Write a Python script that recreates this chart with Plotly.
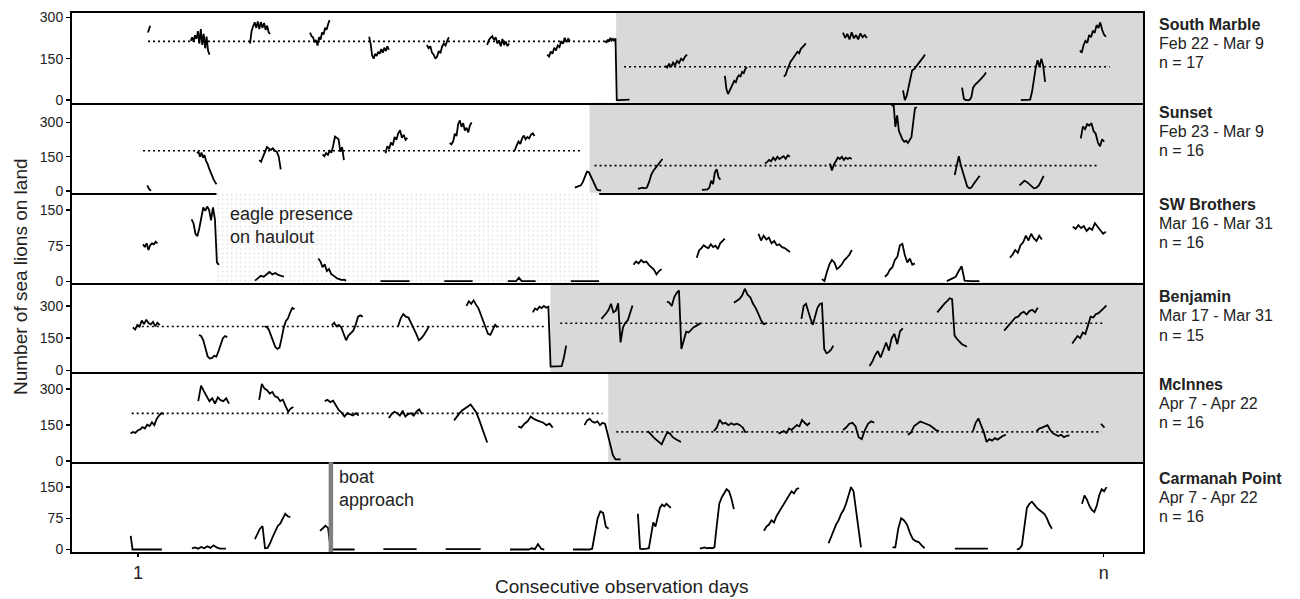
import plotly.graph_objects as go

# ---------------------------------------------------------------- data
SITES = ["South Marble", "Sunset", "SW Brothers", "Benjamin", "McInnes", "Carmanah Point"]
DATES = ["Feb 22 - Mar 9", "Feb 23 - Mar 9", "Mar 16 - Mar 31",
         "Mar 17 - Mar 31", "Apr 7 - Apr 22", "Apr 7 - Apr 22"]
N_DAYS = [17, 16, 16, 15, 16, 16]
Y_TICKS = [[0, 150, 300], [0, 150, 300], [0, 75, 150],
           [0, 150, 300], [0, 150, 300], [0, 75, 150]]
X_TICK_TEXT = ["1", "n"]
DAY_ORIGIN_H = 7.0   # clock hour at the left edge of each day slot

# --- South Marble: observation window (clock h) and counts per day
SM_T0 = [13.7, 7.0, 7.0, 7.3, 7.2, 6.6, 7.0, 7.3, 6.8, 7.0, 7.2, 7.1, 7.0, 7.3, 7.2, 7.0, 6.9]
SM_T1 = [14.6, 14.6, 15.2, 15.2, 15.2, 15.5, 15.9, 16.5, 16.6, 15.9, 16.1, 16.0, 16.7, 16.2, 16.9, 16.8, 17.4]
SM_COUNTS = [
    [245, 255, 262, 270],
    [215, 228, 212, 235, 222, 250, 205, 258, 200, 240, 188, 230, 180, 165],
    [205, 250, 268, 282, 262, 285, 258, 283, 262, 280, 255, 270, 245, 240],
    [245, 232, 228, 210, 218, 198, 228, 220, 245, 238, 262, 255, 275, 290],
    [230, 205, 162, 150, 168, 160, 175, 168, 185, 172, 190, 178, 195, 182],
    [200, 188, 195, 172, 165, 150, 158, 178, 170, 195, 205, 198, 215, 228],
    [200, 218, 226, 232, 218, 228, 205, 216, 195, 222, 200, 212, 196, 205],
    [165, 158, 176, 168, 190, 180, 198, 192, 214, 204, 226, 210, 222, 215],
    [215, 208, 220, 212, 226, 216, 222, 214, 224, 0, 0, 0, 0, 0, 0, 0, 1, 1, 2, 2],
    [125, 118, 132, 120, 136, 126, 142, 134, 150, 144, 158, 165],
    [88, 40, 22, 35, 48, 55, 70, 65, 82, 90, 86, 102, 98, 112, 120],
    [85, 92, 110, 128, 140, 148, 156, 165, 175, 170, 186, 192, 200, 206],
    [245, 226, 240, 220, 246, 224, 236, 220, 242, 228, 236, 225],
    [35, 0, 15, 50, 85, 108, 112, 120, 128, 140, 148, 155, 165],
    [45, 5, 0, 0, 0, 10, 45, 55, 60, 68, 75, 82, 90, 100],
    [0, 0, 0, 0, 0, 2, 30, 80, 118, 145, 120, 150, 125, 66],
    [180, 172, 200, 215, 208, 236, 228, 252, 244, 272, 262, 282, 255, 238, 230],
]
SM_MEANS = [((1, 13.7), (9, 8.2), 213), ((9, 14.4), (17, 19.0), 121)]
SM_GRAY_FROM = (9, 11.2)

# --- Sunset
SU_T0 = [12.3, 7.2, 6.8, 6.9, 6.8, 7.2, 7.3, 6.7, 6.7, 7.0, 6.9, 7.6, 7.1, 7.0, 7.6, 6.9]
SU_T1 = [13.8, 14.6, 15.0, 15.0, 15.1, 15.5, 15.4, 16.7, 16.0, 14.0, 16.4, 15.9, 16.6, 16.5, 16.8, 15.8]
SU_COUNTS = [
    [25, 15, 8, 4, 3],
    [165, 172, 150, 168, 145, 158, 132, 120, 100, 82, 66, 52, 40, 30],
    [135, 128, 150, 175, 192, 185, 180, 187, 176, 172, 150, 95],
    [160, 152, 166, 158, 176, 168, 200, 238, 232, 226, 172, 192, 135],
    [165, 196, 184, 212, 200, 236, 224, 252, 266, 232, 246, 224, 232],
    [210, 204, 216, 250, 240, 292, 308, 280, 296, 264, 276, 256, 286, 300],
    [172, 180, 200, 216, 206, 230, 242, 226, 236, 230, 246, 252, 240],
    [15, 18, 22, 25, 40, 65, 85, 82, 62, 40, 20, 6, 3, 3],
    [10, 12, 15, 12, 15, 40, 72, 90, 102, 116, 126, 140],
    [5, 5, 5, 7, 15, 45, 30, 82, 95, 60, 50],
    [120, 126, 136, 130, 146, 135, 150, 140, 146, 152, 140, 156, 150],
    [120, 90, 115, 130, 146, 140, 150, 136, 146, 140, 145, 140],
    [370, 382, 280, 330, 262, 240, 225, 215, 220, 210, 222, 235, 300, 362, 366],
    [70, 120, 152, 110, 80, 40, 20, 12, 15, 30, 45, 55, 66],
    [25, 35, 45, 40, 30, 18, 12, 15, 25, 45, 66],
    [230, 282, 270, 292, 286, 296, 262, 250, 212, 195, 226, 215],
]
SU_MEANS = [((1, 10.7), (8, 9.6), 176), ((8, 14.2), (16, 13.2), 111)]
SU_GRAY_FROM = (8, 12.3)

# --- SW Brothers
SW_T0 = [12.6, 7.1, 7.3, 7.4, 7.1, 7.4, 7.6, 7.6, 7.5, 7.6, 7.1, 7.3, 7.3, 6.9, 6.9, 6.9]
SW_T1 = [18.1, 17.5, 18.3, 18.0, 18.2, 18.2, 18.2, 18.4, 18.2, 18.3, 19.1, 18.7, 18.7, 19.3, 19.1, 19.5]
SW_COUNTS = [
    [78, 72, 80, 66, 76, 80, 78, 83, 80],
    [130, 122, 100, 95, 112, 135, 155, 148, 157, 150, 128, 155, 130, 40, 35],
    [2, 8, 12, 10, 16, 20, 15, 18, 14, 12, 10],
    [48, 42, 30, 36, 22, 26, 16, 12, 8, 6, 5, 3, 4, 2],
    [1, 1, 1, 1, 1, 1, 1, 1],
    [1, 1, 1, 1, 1, 1, 1, 1],
    [1, 1, 1, 1, 8, 1, 1, 1, 1, 1, 1],
    [1, 1, 1, 1, 1, 1, 1, 1],
    [35, 42, 38, 45, 40, 42, 35, 30, 25, 15, 22, 26],
    [50, 65, 70, 76, 72, 70, 78, 72, 75, 68, 80, 86, 90],
    [100, 86, 96, 88, 92, 80, 85, 76, 78, 72, 70, 65, 62],
    [5, 1, 20, 36, 45, 40, 26, 30, 36, 45, 50, 56, 66],
    [10, 15, 25, 30, 45, 52, 76, 79, 55, 40, 48, 35, 38],
    [1, 4, 8, 10, 22, 32, 2, 1, 1, 1, 1, 1],
    [50, 56, 66, 60, 76, 82, 96, 86, 100, 90, 85, 96, 88],
    [115, 110, 118, 112, 116, 106, 112, 108, 122, 115, 108, 100, 104],
]
SW_EAGLE = ((2, 16.6), (8, 18.4))

# --- Benjamin
BE_T0 = [7.3, 6.9, 6.3, 6.3, 6.0, 6.4, 6.1, 6.6, 6.0, 5.9, 6.0, 6.3, 6.5, 6.4, 6.7]
BE_T1 = [16.9, 17.0, 17.0, 17.4, 17.1, 17.5, 18.0, 17.7, 18.0, 17.6, 17.4, 18.2, 17.1, 18.4, 18.9]
BE_COUNTS = [
    [200, 190, 212, 204, 232, 215, 236, 220, 214, 226, 205, 222, 210],
    [165, 160, 140, 100, 65, 55, 58, 68, 64, 90, 120, 150, 160, 155],
    [205, 202, 190, 160, 130, 110, 100, 106, 150, 200, 230, 242, 270, 290, 285],
    [210, 222, 205, 212, 200, 170, 140, 162, 176, 185, 212, 250, 256, 250],
    [205, 242, 262, 250, 246, 222, 200, 170, 140, 150, 166, 186, 206],
    [300, 322, 310, 326, 306, 290, 260, 230, 200, 170, 165, 186, 212, 200],
    [270, 288, 282, 296, 290, 300, 292, 296, 18, 18, 18, 18, 18, 20, 60, 115],
    [240, 252, 266, 282, 310, 270, 278, 312, 130, 200, 222, 232, 272, 302],
    [320, 315, 300, 340, 360, 372, 100, 140, 180, 176, 190, 200, 206, 214, 220],
    [315, 322, 332, 348, 380, 352, 340, 310, 290, 262, 232, 215, 220],
    [240, 300, 310, 270, 240, 212, 255, 290, 308, 312, 100, 80, 86, 96, 115],
    [20, 40, 70, 90, 60, 100, 130, 92, 150, 170, 122, 182, 195],
    [270, 285, 296, 312, 322, 336, 332, 162, 146, 132, 122, 116, 110],
    [185, 200, 216, 230, 246, 250, 266, 272, 260, 276, 282, 270, 292],
    [125, 142, 160, 150, 176, 170, 212, 250, 246, 262, 266, 280, 290, 302],
]
BE_MEANS = [((1, 8.7), (7, 10.6), 204), ((7, 15.9), (15, 18.3), 219.5)]
BE_GRAY_FROM = (7, 12.4)

# --- McInnes
MC_T0 = [7.0, 8.1, 6.7, 7.0, 6.8, 7.0, 6.8, 7.4, 6.9, 7.4, 7.4, 7.3, 7.4, 7.5, 7.1, 7.0]
MC_T1 = [19.3, 19.5, 19.4, 19.6, 19.1, 19.3, 19.6, 20.8, 19.2, 19.2, 19.0, 18.9, 18.9, 19.7, 19.3, 8.3]
MC_COUNTS = [
    [115, 122, 118, 128, 132, 142, 136, 152, 146, 162, 150, 176, 190, 200, 196],
    [250, 315, 292, 272, 250, 262, 240, 266, 254, 250, 262, 240],
    [255, 322, 302, 296, 282, 288, 270, 266, 250, 256, 230, 206, 220, 226],
    [250, 256, 246, 252, 232, 212, 202, 186, 200, 195, 190, 200, 190],
    [180, 196, 206, 200, 190, 210, 186, 196, 200, 190, 206, 216, 196],
    [170, 186, 200, 212, 222, 228, 236, 222, 204, 175, 140, 110, 78],
    [145, 140, 156, 166, 186, 176, 170, 166, 160, 150, 156, 140],
    [150, 170, 176, 165, 160, 166, 150, 160, 155, 110, 60, 25, 8, 8, 8],
    [125, 110, 100, 90, 80, 70, 96, 120, 115, 100, 92, 86, 80],
    [125, 140, 172, 156, 160, 150, 158, 152, 156, 150, 140, 118],
    [115, 120, 126, 118, 136, 130, 140, 150, 145, 172, 160, 150, 160],
    [130, 140, 156, 160, 146, 100, 92, 130, 156, 166, 160],
    [110, 120, 146, 156, 165, 160, 156, 150, 140, 130, 125],
    [125, 160, 178, 150, 120, 80, 92, 86, 96, 90, 100, 106, 110],
    [125, 136, 140, 146, 150, 130, 116, 110, 105, 110, 100, 106, 108],
    [156, 146, 140],
]
MC_MEANS = [((1, 7.4), (8, 14.0), 199), ((8, 19.2), (16, 7.2), 122)]
MC_GRAY_FROM = (8, 16.2)

# --- Carmanah Point
CA_T0 = [6.7, 5.9, 5.8, 6.5, 6.5, 6.1, 6.5, 6.4, 7.0, 6.5, 6.8, 7.3, 7.5, 7.2, 6.7, 7.4]
CA_T1 = [18.5, 18.8, 19.2, 19.6, 19.1, 19.4, 19.5, 19.9, 19.5, 19.4, 20.1, 19.6, 19.7, 19.7, 20.0, 16.7]
CA_COUNTS = [
    [33, 0, 0, 0, 0, 0, 0, 0, 0, 0, 0, 0, 0, 0, 0, 0, 0, 0],
    [3, 5, 2, 6, 3, 8, 4, 10, 5, 2, 2, 2],
    [25, 38, 50, 56, 3, 4, 15, 30, 42, 56, 62, 74, 86, 80, 78],
    [45, 50, 57, 52, 0, 0, 0, 0, 0, 0, 0, 0, 0, 0],
    [1, 1, 1, 1, 1, 1, 1, 1],
    [1, 1, 1, 1, 1, 1, 1, 1],
    [0, 0, 0, 0, 0, 0, 0, 3, 1, 13, 2, 0],
    [0, 0, 0, 0, 0, 0, 0, 2, 40, 75, 92, 88, 55, 50],
    [86, 2, 1, 1, 2, 3, 40, 65, 55, 80, 100, 108, 104, 110, 106, 100],
    [2, 3, 5, 3, 4, 3, 5, 60, 110, 125, 135, 145, 140, 122, 97],
    [45, 55, 60, 70, 65, 80, 90, 100, 110, 120, 130, 140, 135, 145, 148],
    [15, 30, 45, 60, 70, 85, 95, 110, 130, 150, 140, 90, 40, 5],
    [5, 5, 50, 75, 70, 60, 40, 25, 20, 18, 10, 3],
    [2, 2, 2, 2, 2, 2, 2, 2],
    [0, 2, 10, 60, 100, 110, 115, 108, 100, 95, 90, 85, 75, 60, 50],
    [110, 130, 120, 105, 95, 90, 105, 130, 145, 140, 150],
]
CA_BOAT = (4, 10.6)
CA_X_TICKS = ((1, 9.5), (16, 15.6))

# ---------------------------------------------------------------- layout constants
FONT = "Liberation Sans, Arial, sans-serif"
TXT = "#222222"
GRAY = "#d9d9d9"
PANEL_XRANGE = [(-1.002, 17.06), (-0.97, 15.98), (-0.894, 16.11),
                (-0.893, 15.04), (-0.906, 15.65), (-0.94, 15.98)]
PANEL_YRANGE = [(-10, 316), (-7, 385), (-2, 186), (-9, 409), (-4, 370), (-6, 210)]
LABEL_TOP_PX = [20.5, 109, 202, 295, 383, 477.5]
W, H = 1300, 599
ML, MR, MT, MB = 72, 157, 9, 47


def xpos(day, clock):
    return (day - 1) + (clock - DAY_ORIGIN_H) / 24.0


def ax_names(i):
    s = "" if i == 0 else str(i + 1)
    return "x" + s, "y" + s, "xaxis" + s, "yaxis" + s


def day_trace(t0s, t1s, counts, i):
    xa, ya, _, _ = ax_names(i)
    xs, ys = [], []
    for d, (a, b, vals) in enumerate(zip(t0s, t1s, counts), start=1):
        m = len(vals)
        for k, v in enumerate(vals):
            xs.append(xpos(d, a + (b - a) * k / (m - 1)))
            ys.append(v)
        xs.append(None)
        ys.append(None)
    return go.Scatter(x=xs, y=ys, mode="lines", xaxis=xa, yaxis=ya,
                      line=dict(color="black", width=1.8), hoverinfo="skip")


def mean_traces(means, i):
    xa, ya, _, _ = ax_names(i)
    out = []
    for (d0, c0), (d1, c1), v in means:
        out.append(go.Scatter(x=[xpos(d0, c0), xpos(d1, c1)], y=[v, v], mode="lines",
                              xaxis=xa, yaxis=ya, hoverinfo="skip",
                              line=dict(color="black", width=1.6, dash="2px,3px")))
    return out


fig = go.Figure()
shapes = []
annotations = []

# eagle stipple (SW Brothers, panel index 2)
(ed0, ec0), (ed1, ec1) = SW_EAGLE
ex0, ex1 = xpos(ed0, ec0), xpos(ed1, ec1)
ylo, yhi = PANEL_YRANGE[2]
fig.add_trace(go.Scatter(x=[ex0, ex1, ex1, ex0, ex0], y=[ylo, ylo, yhi, yhi, ylo],
                         mode="lines", fill="toself", xaxis="x3", yaxis="y3",
                         line=dict(width=0, color="rgba(0,0,0,0)"),
                         fillcolor="white",
                         fillpattern=dict(shape=".", fgcolor="#b8b8b8", bgcolor="white",
                                          size=4.5, solidity=0.1),
                         hoverinfo="skip"))

series = [(SM_T0, SM_T1, SM_COUNTS), (SU_T0, SU_T1, SU_COUNTS), (SW_T0, SW_T1, SW_COUNTS),
          (BE_T0, BE_T1, BE_COUNTS), (MC_T0, MC_T1, MC_COUNTS), (CA_T0, CA_T1, CA_COUNTS)]
means = {0: SM_MEANS, 1: SU_MEANS, 3: BE_MEANS, 4: MC_MEANS}
grays = {0: SM_GRAY_FROM, 1: SU_GRAY_FROM, 3: BE_GRAY_FROM, 4: MC_GRAY_FROM}

for i, (t0, t1, cnt) in enumerate(series):
    for tr in mean_traces(means.get(i, []), i):
        fig.add_trace(tr)
    fig.add_trace(day_trace(t0, t1, cnt, i))

layout = dict(width=W, height=H, margin=dict(l=ML, r=MR, t=MT, b=MB, pad=0),
              plot_bgcolor="white", paper_bgcolor="white", showlegend=False,
              font=dict(family=FONT, color=TXT))

for i in range(6):
    xa, ya, xk, yk = ax_names(i)
    top = 1 - i / 6
    bot = 1 - (i + 1) / 6
    # each separator is drawn once (bottom line of the upper panel); top panel mirrors to its top
    layout[xk] = dict(domain=[0, 1], anchor=ya, range=list(PANEL_XRANGE[i]),
                      showline=True, mirror=(i == 0), linecolor="black", linewidth=2,
                      showgrid=False, zeroline=False, ticks="", showticklabels=False,
                      fixedrange=True)
    layout[yk] = dict(domain=[bot, top], anchor=xa, range=list(PANEL_YRANGE[i]),
                      tickmode="array", tickvals=Y_TICKS[i],
                      ticks="outside", ticklen=4, tickwidth=1.5, tickcolor="black",
                      showline=True, mirror=True, linecolor="black", linewidth=2,
                      showgrid=False, zeroline=False, tickfont=dict(size=14, color=TXT),
                      fixedrange=True)
    if i in grays:
        gd, gc = grays[i]
        shapes.append(dict(type="rect", xref=xa, yref=ya + " domain",
                           x0=xpos(gd, gc), x1=PANEL_XRANGE[i][1], y0=0, y1=1,
                           fillcolor=GRAY, line=dict(width=0), layer="below"))
    # right-hand labels
    for j, txt in enumerate(["<b>%s</b>" % SITES[i], DATES[i], "n = %d" % N_DAYS[i]]):
        py = LABEL_TOP_PX[i] + 19.2 * j
        annotations.append(dict(xref="paper", yref="paper",
                                x=(1157 - ML) / (W - ML - MR), y=(H - MB - py) / (H - MT - MB),
                                xanchor="left", yanchor="middle", showarrow=False,
                                text=txt, font=dict(size=16, color=TXT), align="left"))

# bottom x axis ticks
layout["xaxis6"].update(ticks="outside", ticklen=3, tickwidth=1.5, tickcolor="black",
                        showticklabels=True, tickmode="array",
                        tickvals=[xpos(d, c) for d, c in CA_X_TICKS], ticktext=X_TICK_TEXT,
                        tickfont=dict(size=18, color=TXT))

# boat approach marker
bd, bc = CA_BOAT
shapes.append(dict(type="line", xref="x6", yref="y6 domain", x0=xpos(bd, bc), x1=xpos(bd, bc),
                   y0=0, y1=1, line=dict(color="#808080", width=4.5), layer="above"))
annotations.append(dict(xref="x6", yref="y6 domain", x=xpos(bd, bc) + 0.09, y=0.71,
                        xanchor="left", yanchor="middle", showarrow=False, align="left",
                        text="boat<br>approach", font=dict(size=18, color=TXT)))
annotations.append(dict(xref="x3", yref="y3 domain", x=ex0 + 0.18, y=0.64,
                        xanchor="left", yanchor="middle", showarrow=False, align="left",
                        text="eagle presence<br>on haulout", font=dict(size=18, color=TXT)))

# axis titles
annotations.append(dict(xref="paper", yref="paper", x=(20 - ML) / (W - ML - MR),
                        y=(H - MB - 275) / (H - MT - MB), xanchor="center", yanchor="middle",
                        textangle=-90, showarrow=False, text="Number of sea lions on land",
                        font=dict(size=19, color=TXT)))
annotations.append(dict(xref="paper", yref="paper", x=(621 - ML) / (W - ML - MR),
                        y=(H - MB - 586.5) / (H - MT - MB), xanchor="center", yanchor="middle",
                        showarrow=False, text="Consecutive observation days",
                        font=dict(size=19, color=TXT)))

layout["shapes"] = shapes
layout["annotations"] = annotations
fig.update_layout(**layout)
fig.write_html("out.html", config={"displayModeBar": False, "staticPlot": True},
               post_script="document.body.style.margin='0';document.body.style.overflow='hidden';")
